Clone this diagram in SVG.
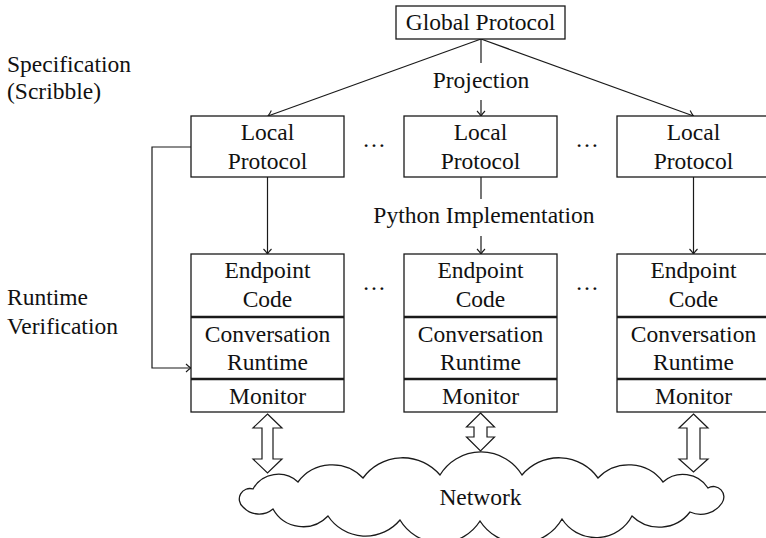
<svg xmlns="http://www.w3.org/2000/svg" width="766" height="538" viewBox="0 0 766 538" font-family="Liberation Serif, Times New Roman, DejaVu Serif, serif" font-size="23.5">
<defs>
<marker id="ah" markerUnits="userSpaceOnUse" markerWidth="12" markerHeight="12" viewBox="-6 -6 12 12" refX="0" refY="0" orient="auto">
<path d="M-5,-4 Q-2,-1 0,0 Q-2,1 -5,4" fill="none" stroke="#1a1a1a" stroke-width="1.1"/>
</marker>
</defs>
<style>
text{font-family:'Liberation Serif','Times New Roman','DejaVu Serif',serif;font-size:23.5px;fill:#111;}
.c{text-anchor:middle;}
.box{fill:#fff;stroke:#1a1a1a;stroke-width:1.3;}
.sep{stroke:#1a1a1a;stroke-width:2.4;}
.ln{fill:none;stroke:#1a1a1a;stroke-width:1.2;}
.ar{fill:none;stroke:#1a1a1a;stroke-width:1.2;marker-end:url(#ah);}
.dbl{fill:#fff;stroke:#1a1a1a;stroke-width:1.2;stroke-linejoin:miter;}
</style>
<rect width="766" height="538" fill="#fff"/>

<g id="labels">
<text x="7" y="72">Specification</text>
<text x="7" y="99">(Scribble)</text>
<text x="7" y="305">Runtime</text>
<text x="7" y="334">Verification</text>
</g>

<g id="connectors">
<line class="ar" x1="481" y1="39" x2="268" y2="116"/>
<line class="ar" x1="481" y1="39" x2="693.5" y2="116"/>
<line class="ln" x1="481" y1="39" x2="481" y2="63"/>
<line class="ar" x1="481" y1="100" x2="481" y2="116"/>
<text class="c" x="481" y="88">Projection</text>
<line class="ar" x1="267.5" y1="177" x2="267.5" y2="254"/>
<line class="ar" x1="693.5" y1="177" x2="693.5" y2="254"/>
<line class="ln" x1="481" y1="177" x2="481" y2="199"/>
<line class="ar" x1="481" y1="236" x2="481" y2="254"/>
<text class="c" x="484" y="223">Python Implementation</text>
<polyline class="ar" points="191,147 152,147 152,368 191,368"/>
<polygon class="dbl" points="267.5,414 282,428 273,428 273,459 282,459 267.5,473 253,459 262,459 262,428 253,428"/>
<polygon class="dbl" points="480.5,413 494.5,427 487,427 487,437 494.5,437 480.5,451 466.5,437 474,437 474,427 466.5,427"/>
<polygon class="dbl" points="693.5,414 708,428 700,428 700,459 708,459 693.5,472 679,459 687,459 687,428 679,428"/>
</g>

<g id="global">
<rect class="box" x="396" y="6" width="169" height="33"/>
<text class="c" x="480.5" y="30">Global Protocol</text>
</g>

<g id="local1">
<rect class="box" x="191" y="116" width="153" height="61"/>
<text class="c" x="267.5" y="140">Local</text>
<text class="c" x="267.5" y="169">Protocol</text>
</g>
<g id="local2">
<rect class="box" x="404" y="116" width="153" height="61"/>
<text class="c" x="480.5" y="140">Local</text>
<text class="c" x="480.5" y="169">Protocol</text>
</g>
<g id="local3">
<rect class="box" x="617" y="116" width="153" height="61"/>
<text class="c" x="693.5" y="140">Local</text>
<text class="c" x="693.5" y="169">Protocol</text>
</g>

<g id="dots">
<text class="c" x="374" y="147">…</text>
<text class="c" x="587" y="147">…</text>
<text class="c" x="374" y="290">…</text>
<text class="c" x="587" y="290">…</text>
</g>

<g id="endpoint1">
<rect class="box" x="191" y="254" width="153" height="158"/>
<line class="sep" x1="191" y1="317" x2="344" y2="317"/>
<line class="sep" x1="191" y1="379" x2="344" y2="379"/>
<text class="c" x="267.5" y="278">Endpoint</text>
<text class="c" x="267.5" y="307">Code</text>
<text class="c" x="267.5" y="342">Conversation</text>
<text class="c" x="267.5" y="370">Runtime</text>
<text class="c" x="267.5" y="404">Monitor</text>
</g>
<g id="endpoint2">
<rect class="box" x="404" y="254" width="153" height="158"/>
<line class="sep" x1="404" y1="317" x2="557" y2="317"/>
<line class="sep" x1="404" y1="379" x2="557" y2="379"/>
<text class="c" x="480.5" y="278">Endpoint</text>
<text class="c" x="480.5" y="307">Code</text>
<text class="c" x="480.5" y="342">Conversation</text>
<text class="c" x="480.5" y="370">Runtime</text>
<text class="c" x="480.5" y="404">Monitor</text>
</g>
<g id="endpoint3">
<rect class="box" x="617" y="254" width="153" height="158"/>
<line class="sep" x1="617" y1="317" x2="770" y2="317"/>
<line class="sep" x1="617" y1="379" x2="770" y2="379"/>
<text class="c" x="693.5" y="278">Endpoint</text>
<text class="c" x="693.5" y="307">Code</text>
<text class="c" x="693.5" y="342">Conversation</text>
<text class="c" x="693.5" y="370">Runtime</text>
<text class="c" x="693.5" y="404">Monitor</text>
</g>

<g id="network">
<path class="box" stroke-width="1.2" d="M253,489 A29,29 0 0 1 298,482 A42.7,42.7 0 0 1 363,478 A49,49 0 0 1 440,475 A48,48 0 0 1 522,475 A48,48 0 0 1 598,478 A42.7,42.7 0 0 1 663,482 A30,30 0 0 1 708,488 A10.5,10.5 0 0 1 722,503 A25.7,25.7 0 0 1 690,512 A38.8,38.8 0 0 1 632,516 A40.6,40.6 0 0 1 562,519 A48,48 0 0 1 480,521 A47,47 0 0 1 400,520 A45,45 0 0 1 328,516 A34.4,34.4 0 0 1 273,509 A21.75,21.75 0 0 1 243,507 A10.5,10.5 0 0 1 253,489 Z"/>
<text class="c" x="480.5" y="505">Network</text>
</g>
</svg>
